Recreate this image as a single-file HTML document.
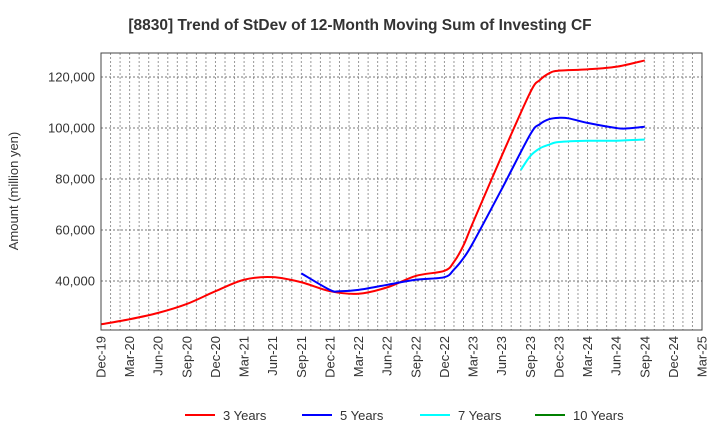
<!DOCTYPE html>
<html><head><meta charset="utf-8"><style>
body{margin:0;background:#fff;font-family:"Liberation Sans",sans-serif}
</style></head><body>
<svg id="c" width="720" height="440" xmlns="http://www.w3.org/2000/svg">
<text x="360" y="30" text-anchor="middle" font-size="15.5" font-weight="bold" fill="#333">[8830]  Trend of StDev of 12-Month Moving Sum of Investing CF</text>
<text transform="translate(18,191) rotate(-90)" text-anchor="middle" font-size="13" fill="#333">Amount (million yen)</text>
<g id="grid"></g><g id="series"></g><g id="axes"></g><g id="legend"></g>
</svg>
<script>
// month index from Dec-19
const xLabels=["Dec-19","Mar-20","Jun-20","Sep-20","Dec-20","Mar-21","Jun-21","Sep-21","Dec-21","Mar-22","Jun-22","Sep-22","Dec-22","Mar-23","Jun-23","Sep-23","Dec-23","Mar-24","Jun-24","Sep-24","Dec-24","Mar-25"];
const yTicks=[40000,60000,80000,100000,120000];
const seriesNames=["3 Years","5 Years","7 Years","10 Years"];
const seriesColors=["#ff0000","#0000ff","#00ffff","#008000"];
const m3=[0,3,6,9,12,15,18,21,24,27,30,33,36,37,38,39,42,45,46,47,48,51,54,57];
const v3=[23000,25000,27500,31000,36000,40500,41500,39500,36000,35000,37500,42000,44000,47500,54000,63000,89000,114000,118800,121500,122500,123000,124000,126500];
const m5=[21,24,25,27,30,33,36,37,38,39,42,45,46,47,48,49,51,54,55,57];
const v5=[43000,36500,36000,36500,38500,40500,41500,44500,49000,55000,76000,97500,101500,103500,104000,103800,102000,100000,99800,100500];
const m7=[44,45,46,47,48,51,54,57];
const v7=[83500,89000,92000,93500,94500,95000,95000,95500];
const m10=[];const v10=[];
const L=101,R=702,T=53,B=330;
const X=m=>L+m*(R-L)/63;
const Y=v=>281-(v-40000)*51/20000;
const ns="http://www.w3.org/2000/svg";
function mk(tag,attrs,parent){const e=document.createElementNS(ns,tag);for(const k in attrs)e.setAttribute(k,attrs[k]);parent.appendChild(e);return e;}
const grid=document.getElementById('grid'),axes=document.getElementById('axes'),ser=document.getElementById('series'),leg=document.getElementById('legend');
for(let m=1;m<63;m++){const l=mk('line',{x1:X(m),x2:X(m),y1:T,y2:B,stroke:'#999','stroke-dasharray':'2,2','stroke-width':1},grid);

}
yTicks.forEach(v=>{const l=mk('line',{x1:L,x2:R,y1:Y(v),y2:Y(v),stroke:'#777','stroke-dasharray':'2,2','stroke-width':1},grid);


const t=mk('text',{x:L-6,y:Y(v)+4.5,'text-anchor':'end','font-size':13,fill:'#333'},axes);t.textContent=v.toLocaleString('en-US');

});
const fr=mk('rect',{x:L,y:T,width:R-L,height:B-T,fill:'none',stroke:'#444','stroke-width':1},axes);


xLabels.forEach((s,i)=>{const x=X(i*3);const t=mk('text',{transform:`translate(${x+4.5},${B+6}) rotate(-90)`,'text-anchor':'end','font-size':13,fill:'#333'},axes);t.textContent=s;

});
function path(ms,vs){const p=ms.map((m,i)=>[X(m),Y(vs[i])]);if(!p.length)return'';let d=`M${p[0][0]},${p[0][1]}`;
for(let i=0;i<p.length-1;i++){const p0=p[i-1]||p[i],p1=p[i],p2=p[i+1],p3=p[i+2]||p2;
d+=` C${p1[0]+(p2[0]-p0[0])/6},${p1[1]+(p2[1]-p0[1])/6} ${p2[0]-(p3[0]-p1[0])/6},${p2[1]-(p3[1]-p1[1])/6} ${p2[0]},${p2[1]}`;}return d;}
[[m3,v3],[m5,v5],[m7,v7],[m10,v10]].forEach((s,i)=>{if(!s[0].length)return;const e=mk('path',{d:path(s[0],s[1]),fill:'none',stroke:seriesColors[i],'stroke-width':2},ser);

});
const lx=[185,302,420,535];
seriesNames.forEach((n,i)=>{const g=mk('g',{},leg);


mk('line',{x1:lx[i],x2:lx[i]+30,y1:415,y2:415,stroke:seriesColors[i],'stroke-width':2},g);
const t=mk('text',{x:lx[i]+38,y:420,'font-size':13,fill:'#333'},g);t.textContent=n;});
</script>
</body></html>
